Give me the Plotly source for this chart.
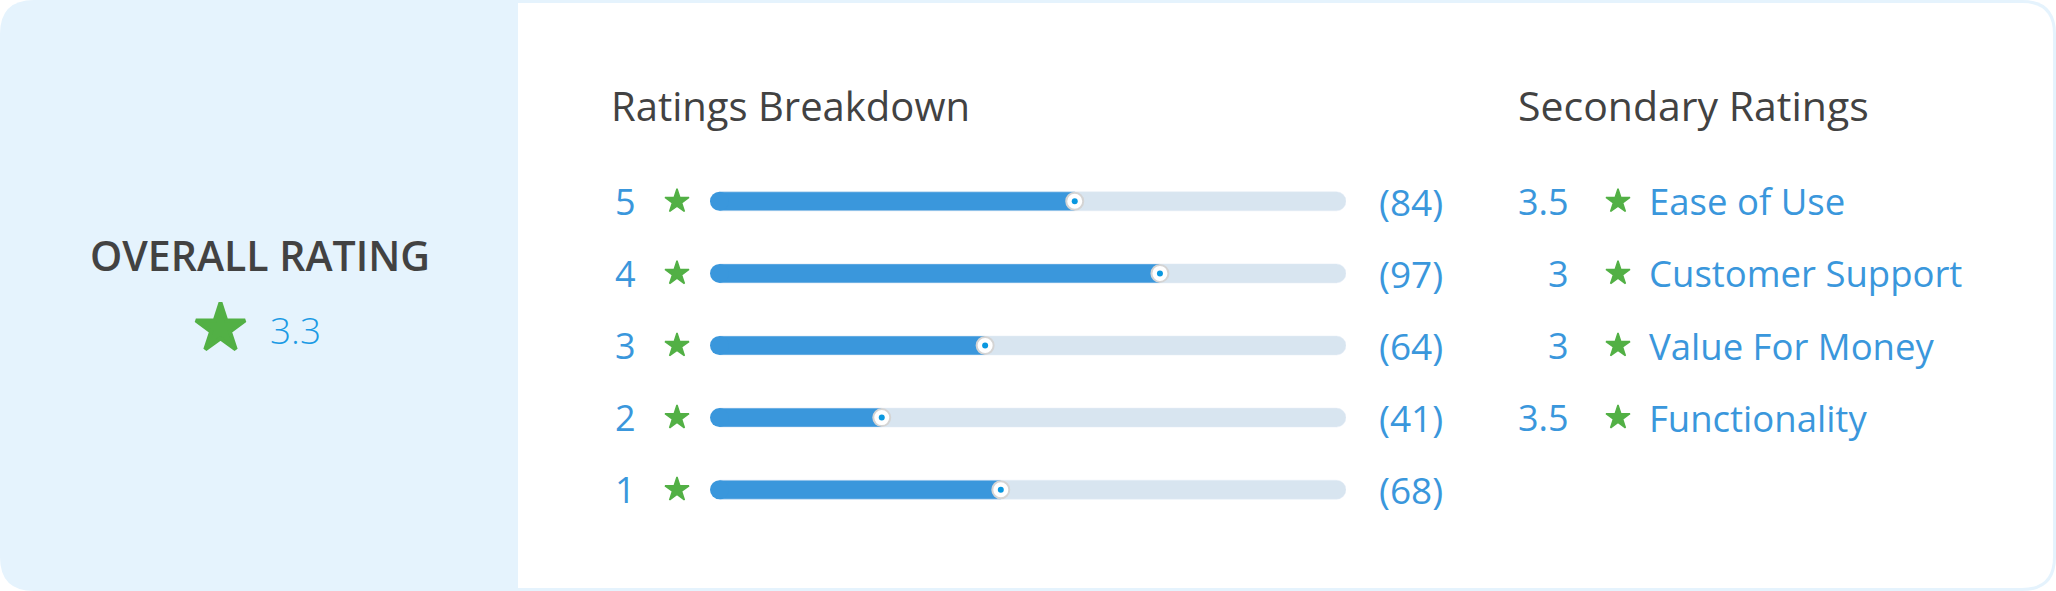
import plotly.graph_objects as go

W, H = 2056, 591

# ---- data ----
ratings = [5, 4, 3, 2, 1]
counts = [84, 97, 64, 41, 68]
fill_pct = [56.7, 70.3, 42.4, 25.9, 44.9]  # filled share of each bar (% of track)
overall = 3.3
sec_scores = [3.5, 3, 3, 3.5]
sec_labels = ["Ease of Use", "Customer Support", "Value For Money", "Functionality"]

# ---- style ----
FONT = "Open Sans"
LIGHT = "#e5f3fd"
DARK = "#424242"
BLUE = "#3a97dc"
CYAN = "#1b9ae4"
GREEN = "#52b045"
TRACK = "#d8e5f0"

# layout constants (pixels, y down)
ROW0, ROW_DY = 201.3, 72.1
TRACK_L, TRACK_R, BAR_H = 710, 1346, 19
X0 = TRACK_L + BAR_H / 2
row_y = [ROW0 + k * ROW_DY for k in range(len(ratings))]


def rrect(x0, y0, x1, y1, r, left=True, right=True):
    p = f"M{x0 + (r if left else 0)},{y0} L{x1 - (r if right else 0)},{y0} "
    p += f"Q{x1},{y0} {x1},{y0 + r} L{x1},{y1 - r} Q{x1},{y1} {x1 - r},{y1} " if right else f"L{x1},{y0} L{x1},{y1} "
    p += f"L{x0 + (r if left else 0)},{y1} "
    p += f"Q{x0},{y1} {x0},{y1 - r} L{x0},{y0 + r} Q{x0},{y0} {x0 + r},{y0} Z" if left else f"L{x0},{y1} Z"
    return p


def txt(s, x, y, size, color, xanchor="left", weight=None):
    f = dict(family=FONT, size=size, color=color)
    if weight:
        f["weight"] = weight
    return dict(text=s, x=x, y=y, xref="x", yref="y", xanchor=xanchor, yanchor="middle",
                showarrow=False, font=f)


fig = go.Figure()

# bars (own axes: x2 0..100 over the track, y2 by rating)
bar_w = BAR_H / ROW_DY
fig.add_trace(go.Bar(x=[100] * len(ratings), y=ratings, orientation="h", width=bar_w,
                     marker=dict(color=TRACK, cornerradius="50%"),
                     xaxis="x2", yaxis="y2", hoverinfo="skip"))
fig.add_trace(go.Bar(x=fill_pct, y=ratings, orientation="h", width=bar_w,
                     marker=dict(color=BLUE), xaxis="x2", yaxis="y2",
                     hovertemplate="%{x}%<extra></extra>"))
fig.add_trace(go.Scatter(x=[0] * len(ratings), y=ratings, mode="markers",
                         marker=dict(size=BAR_H, color=BLUE), cliponaxis=False,
                         xaxis="x2", yaxis="y2", hoverinfo="skip"))
# knobs
fig.add_trace(go.Scatter(x=fill_pct, y=ratings, mode="markers", cliponaxis=False,
                         marker=dict(size=17, color="white", line=dict(color="#d4d4d4", width=2)),
                         xaxis="x2", yaxis="y2", hoverinfo="skip"))
fig.add_trace(go.Scatter(x=fill_pct, y=ratings, mode="markers", cliponaxis=False,
                         marker=dict(size=6, color="#0a98e0"),
                         xaxis="x2", yaxis="y2", hoverinfo="skip"))

# stars (pixel axes); a same-colour outline makes them a bit chunkier
fig.add_trace(go.Scatter(x=[220.5], y=[328.5], mode="markers",
                         marker=dict(symbol="star", size=37, color=GREEN,
                                     line=dict(color=GREEN, width=4)),
                         hoverinfo="skip"))
fig.add_trace(go.Scatter(x=[677] * len(ratings) + [1618] * len(sec_labels),
                         y=row_y + row_y[:len(sec_labels)], mode="markers",
                         marker=dict(symbol="star", size=18, color=GREEN,
                                     line=dict(color=GREEN, width=1.5)),
                         hoverinfo="skip"))

ann = [
    txt("OVERALL RATING", 260, 255, 41, DARK, "center", 600),
    txt(f"{overall:g}", 268, 329.5, 37, CYAN, "left", 300),
    txt("Ratings Breakdown", 609, 105, 40, DARK),
    txt("Secondary Ratings", 1516, 105, 41, DARK),
]
for r, c, y in zip(ratings, counts, row_y):
    ann.append(txt(str(r), 638, y, 36, BLUE, "right"))
    ann.append(txt(f"({c})", 1377, y, 37, BLUE))
for s, lab, y in zip(sec_scores, sec_labels, row_y):
    ann.append(txt(f"{s:g}", 1571, y, 36, BLUE, "right"))
    ann.append(txt(lab, 1647, y, 36.5, BLUE))

shapes = [
    dict(type="path", path=rrect(0, 0, W, H, 34), xref="x", yref="y",
         fillcolor=LIGHT, line=dict(width=0), layer="below"),
    dict(type="path", path=rrect(518, 3, W - 3, H - 3, 31, left=False), xref="x", yref="y",
         fillcolor="white", line=dict(width=0), layer="below"),
]

top, bot = ROW0 - ROW_DY / 2, row_y[-1] + ROW_DY / 2
hidden = dict(visible=False, showgrid=False, zeroline=False, fixedrange=True)
fig.update_layout(
    width=W, height=H, margin=dict(l=0, r=0, t=0, b=0),
    paper_bgcolor="white", plot_bgcolor="rgba(0,0,0,0)",
    showlegend=False, barmode="overlay",
    xaxis=dict(range=[0, W], domain=[0, 1], **hidden),
    yaxis=dict(range=[H, 0], domain=[0, 1], **hidden),
    xaxis2=dict(range=[0, 100], domain=[X0 / W, TRACK_R / W], anchor="y2", **hidden),
    yaxis2=dict(range=[0.5, 5.5], domain=[1 - bot / H, 1 - top / H], anchor="x2", **hidden),
    shapes=shapes, annotations=ann,
)

fig.write_html("out.html", config={"displayModeBar": False},
               post_script="document.body.style.margin='0';")
